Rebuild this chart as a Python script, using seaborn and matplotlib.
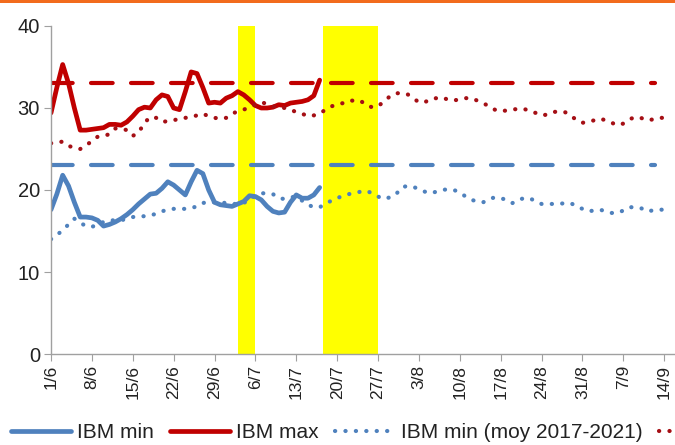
import numpy as np
import pandas as pd
import matplotlib
matplotlib.use("Agg")
import matplotlib.pyplot as plt
import seaborn as sns
from matplotlib.patches import Rectangle

# ===============================
# Data (days counted from 1/6)
# ===============================
tick_labels = ["1/6", "8/6", "15/6", "22/6", "29/6", "6/7", "13/7", "20/7",
               "27/7", "3/8", "10/8", "17/8", "24/8", "31/8", "7/9", "14/9"]

ibm_max = [29.4, 32.5, 35.3, 33.0, 30.0, 27.3, 27.3, 27.4, 27.5, 27.6,
           28.0, 28.0, 27.9, 28.3, 29.0, 29.8, 30.1, 30.0, 31.0, 31.6,
           31.4, 30.0, 29.8, 32.0, 34.4, 34.2, 32.5, 30.6, 30.7, 30.6,
           31.2, 31.5, 32.0, 31.6, 31.0, 30.3, 30.0, 30.0, 30.1, 30.4,
           30.3, 30.6, 30.7, 30.8, 31.0, 31.5, 33.4]

ibm_min = [17.6, 19.5, 21.8, 20.5, 18.5, 16.7, 16.7, 16.6, 16.3, 15.6,
           15.8, 16.1, 16.5, 17.0, 17.6, 18.3, 18.9, 19.5, 19.6, 20.2,
           21.0, 20.6, 20.0, 19.4, 21.0, 22.4, 22.0, 20.0, 18.5, 18.2,
           18.1, 18.0, 18.3, 18.6, 19.3, 19.2, 18.8, 18.0, 17.4, 17.2,
           17.3, 18.5, 19.4, 19.0, 19.0, 19.4, 20.3]

max_moy = [25.7, 25.8, 25.9, 25.4, 25.1, 25.0, 25.4, 26.0, 26.5, 26.6,
           26.8, 27.5, 27.5, 27.3, 26.6, 27.0, 28.2, 28.9, 28.8, 28.3,
           28.4, 28.5, 28.7, 28.8, 28.9, 29.1, 29.3, 29.0, 28.8, 28.7,
           28.8, 29.3, 29.6, 29.8, 30.1, 30.4, 30.7, 30.5, 30.2, 30.1,
           30.0, 29.8, 29.5, 29.3, 29.0, 29.1, 29.3, 29.8, 30.2, 30.4,
           30.6, 30.9, 30.9, 30.9, 30.3, 30.1, 30.2, 30.8, 31.4, 31.8,
           31.8, 31.7, 31.2, 30.7, 30.7, 31.1, 31.2, 31.3, 31.0, 30.9,
           31.1, 31.2, 31.2, 30.9, 30.6, 30.2, 29.8, 29.6, 29.7, 29.8,
           29.9, 29.9, 29.6, 29.4, 29.1, 29.2, 29.5, 29.6, 29.5, 29.1,
           28.5, 28.2, 28.3, 28.5, 28.7, 28.5, 28.2, 27.9, 28.1, 28.6,
           28.9, 28.8, 28.5, 28.6, 28.8, 28.8]

min_moy = [14.0, 14.5, 15.1, 15.8, 16.5, 16.0, 15.6, 15.5, 15.8, 16.1,
           16.3, 16.3, 16.3, 16.5, 16.7, 16.8, 16.8, 16.9, 17.1, 17.4,
           17.6, 17.7, 17.7, 17.7, 17.8, 18.0, 18.4, 18.6, 18.5, 18.5,
           18.4, 18.3, 18.3, 18.4, 18.9, 19.3, 19.6, 19.6, 19.5, 19.0,
           18.9, 19.1, 19.2, 18.7, 18.2, 17.9, 17.9, 18.3, 18.7, 19.0,
           19.3, 19.5, 19.6, 19.8, 19.9, 19.6, 19.2, 18.9, 19.1, 19.4,
           20.3, 20.5, 20.4, 20.1, 19.8, 19.6, 19.8, 20.0, 20.1, 20.0,
           19.7, 19.2, 18.8, 18.6, 18.5, 18.9, 19.1, 19.0, 18.8, 18.4,
           18.8, 19.0, 19.0, 18.6, 18.3, 18.3, 18.3, 18.3, 18.4, 18.4,
           18.0, 17.7, 17.4, 17.5, 17.6, 17.4, 17.2, 17.2, 17.5, 17.9,
           17.9, 17.8, 17.4, 17.5, 17.6, 17.6]

seuil_max = 33
seuil_min = 23

# yellow periods (day from, day to)
band_starts = [32, 46.6]
band_ends = [35, 56]

# ===============================
# Plot
# ===============================
sns.set_style("white")
plt.rcParams["font.family"] = ["Liberation Sans", "DejaVu Sans"]

RED = "#C00000"
BLUE = "#4F81BD"

fig = plt.figure(figsize=(6.75, 4.45), dpi=100)
ax = fig.add_axes([51 / 675, 1 - 354 / 445, (675 - 51) / 675, (354 - 26) / 445])

for s, e in zip(band_starts, band_ends):
    ax.axvspan(s, e, color="#FFFF00", lw=0, zorder=0)

days_obs = np.arange(len(ibm_max))
days_moy = np.arange(len(max_moy))

dots = (0, (0.05, 2.45))

sns.lineplot(x=days_obs, y=ibm_min, ax=ax, color=BLUE, linewidth=3.4,
             label="IBM min")
sns.lineplot(x=days_obs, y=ibm_max, ax=ax, color=RED, linewidth=3.4,
             label="IBM max")
sns.lineplot(x=days_moy, y=min_moy, ax=ax, color=BLUE, linewidth=3.0,
             linestyle=dots, dash_capstyle="round",
             label="IBM min (moy 2017-2021)")
sns.lineplot(x=days_moy, y=max_moy, ax=ax, color="#A50F15", linewidth=3.0,
             linestyle=dots, dash_capstyle="round",
             label="IBM max (moy 2017-2021)")

# thresholds
dash = (0, (5.2, 4.4))
ax.plot([0, 103.5], [seuil_max, seuil_max], color=RED, lw=3,
        linestyle=dash, dash_capstyle="round")
ax.plot([0, 103.5], [seuil_min, seuil_min], color=BLUE, lw=3,
        linestyle=dash, dash_capstyle="round")

ax.set_xlim(0, (675 - 51) / 5.84)
ax.set_ylim(0, 40)
ax.set_yticks([0, 10, 20, 30, 40])
ax.set_xticks(np.arange(0, len(max_moy), 7))
ax.set_xticklabels(tick_labels, rotation=90)
ax.tick_params(axis="y", labelsize=14.5, length=5, color="#A0A0A0",
               direction="out", left=True, pad=3, labelcolor="#222222")
ax.tick_params(axis="x", labelsize=12.5, length=5, color="#A0A0A0",
               direction="out", bottom=True, pad=3, labelcolor="#222222")

sns.despine(ax=ax)
for side in ["left", "bottom"]:
    ax.spines[side].set_color("#A0A0A0")
    ax.spines[side].set_linewidth(1)

# legend: the last entry runs off the right edge in the original,
# only its line sample is visible
handles, labels = ax.get_legend_handles_labels()
ax.get_legend().remove()
labels[-1] = ""
fig.legend(handles, labels, loc="lower left", bbox_to_anchor=(-0.012, -0.036),
           ncol=4, frameon=False, fontsize=15, handlelength=2.9,
           handletextpad=0.3, columnspacing=0.75, labelcolor="#222222")

# orange rule at top
fig.add_artist(Rectangle((0, 1 - 3 / 445), 1, 3 / 445, transform=fig.transFigure,
                         color="#F26B1D", lw=0))

fig.savefig("out.png", dpi=100)
